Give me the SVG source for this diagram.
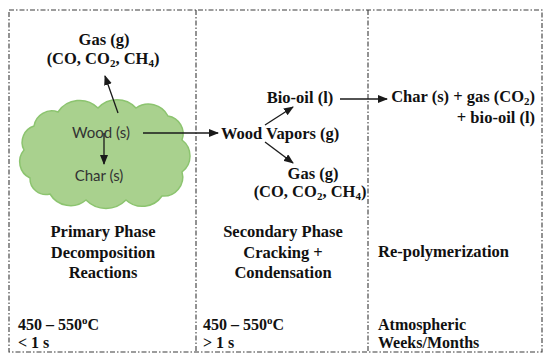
<svg xmlns="http://www.w3.org/2000/svg" width="550" height="362" viewBox="0 0 550 362">
<style>
.frame{fill:none;stroke:#3a3a3a;stroke-width:1.1;stroke-dasharray:5 2 1.5 2}
.lbl{font-family:'Liberation Serif','DejaVu Serif',serif;font-weight:bold;font-size:16.5px;fill:#111}
.sm{font-size:16px}
.in{font-family:Lato,'Liberation Sans',sans-serif;font-size:15px;fill:#333}
.conn{stroke:#1a1a1a;stroke-width:1.3;fill:none;marker-end:url(#ah)}
.sub{font-size:11px}
</style>
<defs>
<marker id="ah" markerUnits="userSpaceOnUse" markerWidth="10" markerHeight="8" refX="9" refY="4" orient="auto">
<path d="M0,0 L10,4 L0,8 z" fill="#1a1a1a"/>
</marker>
</defs>
<rect width="550" height="362" fill="#fff"/>
<g id="frame">
<rect class="frame" x="9" y="10" width="533" height="342"/>
<line class="frame" x1="196" y1="10" x2="196" y2="352"/>
<line class="frame" x1="368" y1="10" x2="368" y2="352"/>
</g>
<g id="cloud">
<path d="M24,150 A17,17 0 0 1 34,126 A18,18 0 0 1 58,112 A26,26 0 0 1 98,108 A26,26 0 0 1 136,108 A22,22 0 0 1 168,116 A18,18 0 0 1 182,140 A20,20 0 0 1 182,172 A19,19 0 0 1 162,196 A24,24 0 0 1 126,200 A28,28 0 0 1 86,200 A24,24 0 0 1 50,194 A16,16 0 0 1 30,178 A18,18 0 0 1 24,150 Z" fill="#a9d18e" stroke="#8cc46f" stroke-width="1.5"/>
</g>
<g id="wood"><text class="in" x="101" y="138" text-anchor="middle">Wood (s)</text></g>
<g id="char1"><text class="in" x="99" y="181" text-anchor="middle">Char (s)</text></g>
<g id="gas1"><text class="lbl" x="104" y="45" text-anchor="middle">Gas (g)</text>
<text class="lbl" x="103" y="64" text-anchor="middle">(CO, CO<tspan class="sub" dy="3">2</tspan><tspan dy="-3">, CH</tspan><tspan class="sub" dy="3">4</tspan><tspan dy="-3">)</tspan></text></g>
<g id="vapors"><text class="lbl" x="221" y="139">Wood Vapors (g)</text></g>
<g id="biooil"><text class="lbl" x="300" y="103" text-anchor="middle">Bio-oil (l)</text></g>
<g id="gas2"><text class="lbl" x="313" y="179" text-anchor="middle">Gas (g)</text>
<text class="lbl" x="310" y="197" text-anchor="middle">(CO, CO<tspan class="sub" dy="3">2</tspan><tspan dy="-3">, CH</tspan><tspan class="sub" dy="3">4</tspan><tspan dy="-3">)</tspan></text></g>
<g id="products"><text class="lbl" x="535" y="102" text-anchor="end">Char (s) + gas (CO<tspan class="sub" dy="3">2</tspan><tspan dy="-3">)</tspan></text>
<text class="lbl" x="535" y="123" text-anchor="end">+ bio-oil (l)</text></g>
<g id="primary"><text class="lbl" x="103" y="237" text-anchor="middle">Primary Phase</text>
<text class="lbl" x="103" y="257.5" text-anchor="middle">Decomposition</text>
<text class="lbl" x="103" y="278" text-anchor="middle">Reactions</text></g>
<g id="secondary"><text class="lbl" x="283" y="237" text-anchor="middle">Secondary Phase</text>
<text class="lbl" x="283" y="257.5" text-anchor="middle">Cracking +</text>
<text class="lbl" x="283" y="278" text-anchor="middle">Condensation</text></g>
<g id="repoly"><text class="lbl" x="378" y="257">Re-polymerization</text></g>
<g id="cond1"><text class="lbl sm" x="18" y="330">450 – 550<tspan class="sub" dy="-6">o</tspan><tspan dy="6">C</tspan></text>
<text class="lbl sm" x="18" y="348">&lt; 1 s</text></g>
<g id="cond2"><text class="lbl sm" x="203" y="330">450 – 550<tspan class="sub" dy="-6">o</tspan><tspan dy="6">C</tspan></text>
<text class="lbl sm" x="203" y="348">&gt; 1 s</text></g>
<g id="cond3"><text class="lbl sm" x="378" y="330">Atmospheric</text>
<text class="lbl sm" x="378" y="348">Weeks/Months</text></g>
<g id="connectors">
<line class="conn" x1="118" y1="113" x2="105" y2="76"/>
<line class="conn" x1="104" y1="133" x2="104" y2="164"/>
<line class="conn" x1="143" y1="133" x2="218" y2="133"/>
<line class="conn" x1="265" y1="125" x2="293" y2="107"/>
<line class="conn" x1="265" y1="142" x2="293" y2="163"/>
<line class="conn" x1="340" y1="99" x2="387" y2="99"/>
</g>
</svg>
